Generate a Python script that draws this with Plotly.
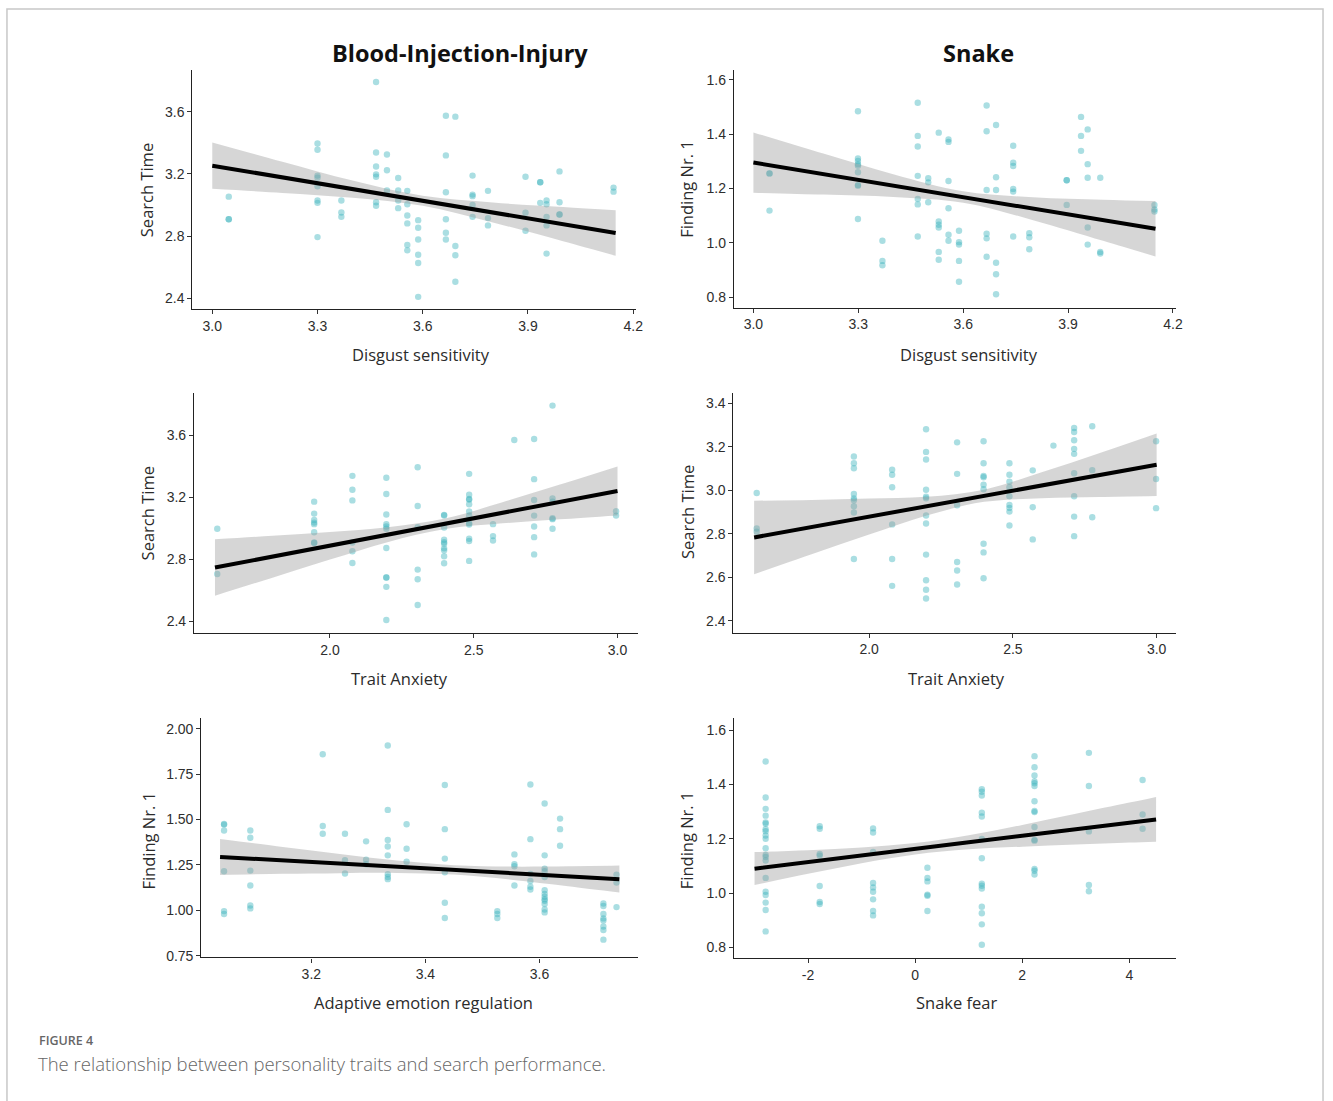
import plotly.graph_objects as go

W, H = 1333, 1101
FIG_H = 1101

# ---------------- DATA ----------------
# Panel 1: Blood-Injection-Injury, Disgust sensitivity vs Search Time
bii_ds_xlev = [3.047, 3.30, 3.368, 3.467, 3.498, 3.53, 3.556, 3.587, 3.666, 3.693,
               3.742, 3.786, 3.893, 3.935, 3.953, 3.99, 4.144]
bii_ds_ygrp = [
    [3.054, 2.909, 2.909],
    [3.395, 3.355, 3.189, 3.175, 3.12, 3.029, 3.014, 2.794],
    [3.029, 2.952, 2.924],
    [3.79, 3.338, 3.248, 3.197, 3.182, 3.018, 2.995],
    [3.325, 3.223, 3.093],
    [3.174, 3.093, 3.029, 2.98],
    [3.091, 3.005, 2.933, 2.882, 2.743, 2.709],
    [2.903, 2.854, 2.779, 2.681, 2.628, 2.41],
    [3.574, 3.319, 3.082, 2.909, 2.822, 2.779],
    [3.568, 2.737, 2.677, 2.507],
    [3.189, 3.067, 3.057, 3.001, 2.924],
    [3.091, 2.916, 2.869],
    [3.182, 2.95, 2.835],
    [3.146, 3.146, 3.014],
    [3.029, 3.005, 2.924, 2.869, 2.688],
    [3.216, 3.018, 2.939, 2.939],
    [3.112, 3.086],
]
bii_ds_fx = [3.0, 3.2, 3.4, 3.6, 3.8, 4.0, 4.15]
bii_ds_fit = [3.253, 3.178, 3.102, 3.027, 2.952, 2.877, 2.82]
bii_ds_lo = [3.104, 3.078, 3.047, 2.995, 2.888, 2.767, 2.674]
bii_ds_hi = [3.402, 3.278, 3.157, 3.059, 3.016, 2.987, 2.966]

# Panel 2: Snake, Disgust sensitivity vs Finding Nr. 1
sn_ds_xlev = [3.046, 3.299, 3.369, 3.47, 3.50, 3.53, 3.558, 3.588, 3.667, 3.694,
              3.743, 3.789, 3.896, 3.937, 3.956, 3.992, 4.147]
sn_ds_ygrp = [
    [1.255, 1.255, 1.118],
    [1.484, 1.310, 1.301, 1.289, 1.283, 1.259, 1.212, 1.210, 1.087],
    [1.007, 0.933, 0.917],
    [1.515, 1.393, 1.354, 1.246, 1.161, 1.141, 1.023],
    [1.237, 1.222, 1.149],
    [1.405, 1.078, 1.066, 1.056, 0.966, 0.937],
    [1.380, 1.371, 1.227, 1.127, 1.029, 1.007],
    [1.044, 1.002, 0.993, 0.933, 0.856],
    [1.505, 1.41, 1.194, 1.033, 1.016, 0.948],
    [1.433, 1.241, 1.194, 0.926, 0.884, 0.81],
    [1.357, 1.294, 1.282, 1.198, 1.188, 1.023],
    [1.035, 1.02, 0.976],
    [1.230, 1.230, 1.139],
    [1.463, 1.393, 1.338],
    [1.417, 1.289, 1.239, 1.056, 0.993],
    [1.239, 0.966, 0.96],
    [1.139, 1.122, 1.115],
]
sn_ds_fx = [3.0, 3.2, 3.4, 3.6, 3.8, 4.0, 4.15]
sn_ds_fit = [1.295, 1.253, 1.210, 1.168, 1.125, 1.083, 1.051]
sn_ds_lo = [1.184, 1.177, 1.168, 1.147, 1.083, 1.007, 0.949]
sn_ds_hi = [1.406, 1.328, 1.252, 1.189, 1.167, 1.158, 1.153]

# Panel 3: Blood-Injection-Injury, Trait Anxiety vs Search Time
bii_ta_xlev = [1.608, 1.945, 2.078, 2.196, 2.305, 2.397, 2.484, 2.567, 2.641, 2.71, 2.774, 2.995]
bii_ta_ygrp = [
    [2.998, 2.707],
    [3.173, 3.096, 3.055, 3.038, 3.028, 2.976, 2.91, 2.906],
    [3.339, 3.25, 3.181, 2.91, 2.853, 2.778],
    [3.327, 3.222, 3.09, 3.028, 3.013, 2.998, 2.874, 2.684, 2.684, 2.624, 2.41],
    [3.395, 3.145, 3.009, 2.735, 2.673, 2.507],
    [3.088, 3.084, 3.006, 2.927, 2.912, 2.902, 2.872, 2.859, 2.821, 2.776],
    [3.352, 3.218, 3.19, 3.186, 3.156, 3.109, 3.083, 3.034, 3.026, 2.934, 2.919, 2.791],
    [3.028, 2.951, 2.923],
    [3.57],
    [3.577, 3.318, 3.184, 3.083, 3.013, 2.944, 2.833],
    [3.792, 3.194, 3.173, 3.066, 3.06, 2.998],
    [3.111, 3.083],
]
bii_ta_fx = [1.6, 1.8, 2.0, 2.2, 2.4, 2.6, 2.8, 3.0]
bii_ta_fit = [2.748, 2.818, 2.889, 2.960, 3.030, 3.101, 3.171, 3.242]
bii_ta_lo = [2.567, 2.683, 2.800, 2.912, 2.996, 3.033, 3.059, 3.084]
bii_ta_hi = [2.930, 2.953, 2.978, 3.008, 3.064, 3.169, 3.283, 3.400]

# Panel 4: Snake, Trait Anxiety vs Search Time
sn_ta_xlev = [1.609, 1.947, 2.08, 2.198, 2.306, 2.398, 2.488, 2.569, 2.641, 2.713, 2.776, 2.998]
sn_ta_ygrp = [
    [2.988, 2.824, 2.809],
    [3.156, 3.125, 3.102, 2.983, 2.963, 2.954, 2.927, 2.898, 2.684],
    [3.095, 3.072, 3.014, 2.843, 2.684, 2.56],
    [3.281, 3.177, 3.142, 3.003, 2.971, 2.963, 2.884, 2.847, 2.704, 2.586, 2.542, 2.502],
    [3.221, 3.076, 2.931, 2.67, 2.631, 2.566],
    [3.226, 3.125, 3.066, 3.06, 3.026, 3.005, 2.754, 2.714, 2.595],
    [3.125, 3.072, 3.04, 3.014, 2.973, 2.933, 2.919, 2.902, 2.838],
    [3.092, 2.922, 2.774],
    [3.206],
    [3.287, 3.269, 3.231, 3.191, 3.168, 3.079, 2.973, 2.879, 2.789],
    [3.295, 3.093, 2.876],
    [3.226, 3.052, 2.918],
]
sn_ta_fx = [1.6, 1.8, 2.0, 2.2, 2.4, 2.6, 2.8, 3.0]
sn_ta_fit = [2.783, 2.831, 2.879, 2.927, 2.975, 3.023, 3.070, 3.118]
sn_ta_lo = [2.614, 2.706, 2.796, 2.884, 2.947, 2.963, 2.969, 2.974]
sn_ta_hi = [2.952, 2.956, 2.962, 2.970, 3.003, 3.083, 3.171, 3.262]

# Panel 5: Blood-Injection-Injury, Adaptive emotion regulation vs Finding Nr. 1
bii_er_xlev = [3.047, 3.093, 3.22, 3.259, 3.296, 3.334, 3.367, 3.434, 3.526, 3.556,
               3.584, 3.609, 3.636, 3.712, 3.735]
bii_er_ygrp = [
    [1.476, 1.472, 1.44, 1.215, 0.996, 0.98],
    [1.44, 1.40, 1.219, 1.137, 1.027, 1.011],
    [1.859, 1.464, 1.422],
    [1.422, 1.276, 1.203],
    [1.38, 1.279, 1.254],
    [1.907, 1.553, 1.387, 1.352, 1.303, 1.199, 1.184, 1.172],
    [1.474, 1.339, 1.268],
    [1.69, 1.447, 1.285, 1.21, 1.042, 0.958],
    [0.996, 0.98, 0.958],
    [1.308, 1.254, 1.243, 1.137],
    [1.693, 1.392, 1.201, 1.162, 1.13, 1.115],
    [1.588, 1.303, 1.23, 1.215, 1.184, 1.111, 1.091, 1.075, 1.062, 1.053, 1.035, 1.005, 0.989],
    [1.505, 1.447, 1.356],
    [1.038, 1.024, 0.98, 0.956, 0.945, 0.911, 0.892, 0.839],
    [1.197, 1.153, 1.018],
]
bii_er_fx = [3.04, 3.15, 3.25, 3.35, 3.45, 3.55, 3.65, 3.74]
bii_er_fit = [1.294, 1.275, 1.258, 1.240, 1.223, 1.205, 1.188, 1.172]
bii_er_lo = [1.195, 1.201, 1.205, 1.206, 1.197, 1.169, 1.133, 1.098]
bii_er_hi = [1.393, 1.349, 1.310, 1.274, 1.249, 1.241, 1.243, 1.247]

# Panel 6: Snake, Snake fear vs Finding Nr. 1
sn_sf_xlev = [-2.793, -1.783, -0.786, 0.229, 1.245, 2.229, 3.245, 4.248]
sn_sf_ygrp = [
    [1.484, 1.352, 1.31, 1.285, 1.26, 1.255, 1.235, 1.228, 1.212, 1.2, 1.165, 1.14,
     1.133, 1.12, 1.056, 1.005, 0.993, 0.965, 0.938, 0.859],
    [1.246, 1.237, 1.144, 1.138, 1.026, 0.967, 0.96],
    [1.238, 1.223, 1.151, 1.037, 1.021, 1.005, 0.977, 0.934, 0.918],
    [1.093, 1.056, 1.043, 0.994, 0.99, 0.934],
    [1.382, 1.373, 1.359, 1.296, 1.282, 1.199, 1.128, 1.035, 1.027, 1.017, 0.95,
     0.926, 0.885, 0.81],
    [1.504, 1.463, 1.433, 1.411, 1.404, 1.394, 1.338, 1.302, 1.298, 1.243, 1.196,
     1.193, 1.089, 1.082, 1.068],
    [1.516, 1.394, 1.227, 1.03, 1.007],
    [1.416, 1.289, 1.237],
]
sn_sf_fx = [-3.0, -2.0, -1.0, 0.0, 1.0, 2.0, 3.0, 4.0, 4.5]
sn_sf_fit = [1.090, 1.115, 1.139, 1.163, 1.187, 1.211, 1.235, 1.259, 1.271]
sn_sf_lo = [1.030, 1.071, 1.110, 1.142, 1.161, 1.171, 1.179, 1.186, 1.189]
sn_sf_hi = [1.151, 1.158, 1.168, 1.184, 1.213, 1.251, 1.292, 1.333, 1.354]

# Tick labels
ds_ticks = [3.0, 3.3, 3.6, 3.9, 4.2]
ds_ticktext = ["3.0", "3.3", "3.6", "3.9", "4.2"]
ta_ticks = [2.0, 2.5, 3.0]
ta_ticktext = ["2.0", "2.5", "3.0"]
er_ticks = [3.2, 3.4, 3.6]
er_ticktext = ["3.2", "3.4", "3.6"]
sf_ticks = [-2, 0, 2, 4]
sf_ticktext = ["-2", "0", "2", "4"]
st_ticks = [2.4, 2.8, 3.2, 3.6]
st_ticktext = ["2.4", "2.8", "3.2", "3.6"]
st2_ticks = [2.4, 2.6, 2.8, 3.0, 3.2, 3.4]
st2_ticktext = ["2.4", "2.6", "2.8", "3.0", "3.2", "3.4"]
fn_ticks = [0.8, 1.0, 1.2, 1.4, 1.6]
fn_ticktext = ["0.8", "1.0", "1.2", "1.4", "1.6"]
fn2_ticks = [0.75, 1.00, 1.25, 1.50, 1.75, 2.00]
fn2_ticktext = ["0.75", "1.00", "1.25", "1.50", "1.75", "2.00"]

col_titles = ["Blood-Injection-Injury", "Snake"]
caption_label = "FIGURE 4"
caption_text = "The relationship between personality traits and search performance."

# ---------------- LAYOUT (pixel boxes) ----------------
panels = [
    dict(xl=bii_ds_xlev, yg=bii_ds_ygrp, fx=bii_ds_fx, fit=bii_ds_fit, lo=bii_ds_lo, hi=bii_ds_hi,
         box=(193.3, 639, 70, 310.7), xr=[2.943, 4.207], yr=[2.332, 3.87],
         xt=(ds_ticks, ds_ticktext), yt=(st_ticks, st_ticktext),
         xtitle="Disgust sensitivity", ytitle="Search Time", xtpos=(423, 356), ytpos=(148, 191)),
    dict(xl=sn_ds_xlev, yg=sn_ds_ygrp, fx=sn_ds_fx, fit=sn_ds_fit, lo=sn_ds_lo, hi=sn_ds_hi,
         box=(737.7, 1182.7, 70, 309.3), xr=[2.944, 4.21], yr=[0.761, 1.637],
         xt=(ds_ticks, ds_ticktext), yt=(fn_ticks, fn_ticktext),
         xtitle="Disgust sensitivity", ytitle="Finding Nr. 1", xtpos=(974, 356), ytpos=(690.5, 190)),
    dict(xl=bii_ta_xlev, yg=bii_ta_ygrp, fx=bii_ta_fx, fit=bii_ta_fit, lo=bii_ta_lo, hi=bii_ta_hi,
         box=(195, 641, 395, 636.7), xr=[1.527, 3.07], yr=[2.325, 3.874],
         xt=(ta_ticks, ta_ticktext), yt=(st_ticks, st_ticktext),
         xtitle="Trait Anxiety", ytitle="Search Time", xtpos=(402, 682.5), ytpos=(148, 516)),
    dict(xl=sn_ta_xlev, yg=sn_ta_ygrp, fx=sn_ta_fx, fit=sn_ta_fit, lo=sn_ta_lo, hi=sn_ta_hi,
         box=(737.3, 1182.7, 395, 636), xr=[1.528, 3.069], yr=[2.345, 3.449],
         xt=(ta_ticks, ta_ticktext), yt=(st2_ticks, st2_ticktext),
         xtitle="Trait Anxiety", ytitle="Search Time", xtpos=(962, 682.5), ytpos=(690.5, 515)),
    dict(xl=bii_er_xlev, yg=bii_er_ygrp, fx=bii_er_fx, fit=bii_er_fit, lo=bii_er_lo, hi=bii_er_hi,
         box=(202.3, 641, 721.7, 962.7), xr=[3.007, 3.772], yr=[0.741, 2.06],
         xt=(er_ticks, er_ticktext), yt=(fn2_ticks, fn2_ticktext),
         xtitle="Adaptive emotion regulation", ytitle="Finding Nr. 1", xtpos=(426, 1008), ytpos=(149, 845)),
    dict(xl=sn_sf_xlev, yg=sn_sf_ygrp, fx=sn_sf_fx, fit=sn_sf_fit, lo=sn_sf_lo, hi=sn_sf_hi,
         box=(737.7, 1182.7, 722.3, 963.3), xr=[-3.387, 4.881], yr=[0.761, 1.643],
         xt=(sf_ticks, sf_ticktext), yt=(fn_ticks, fn_ticktext),
         xtitle="Snake fear", ytitle="Finding Nr. 1", xtpos=(962, 1008), ytpos=(690.5, 845)),
]

PT_COLOR = "rgba(62,180,190,0.44)"
RIB_COLOR = "rgba(153,153,153,0.4)"
TICK_FONT = dict(family="Liberation Sans Narrow, Arial Narrow, Liberation Sans, Arial", size=14, color="#2e2e2e")
TITLE_FONT = dict(family="Open Sans, Lato, sans-serif", size=16.5, color="#2b2b2b")


def px_x(p):
    return p / W


def px_y(p):
    return 1 - p / FIG_H


fig = go.Figure()
layout_axes = {}
annotations = []

for i, p in enumerate(panels, start=1):
    xa = "x" if i == 1 else f"x{i}"
    ya = "y" if i == 1 else f"y{i}"
    xs, ys = [], []
    for xv, grp in zip(p["xl"], p["yg"]):
        for yv in grp:
            xs.append(xv)
            ys.append(yv)
    fig.add_trace(go.Scatter(x=xs, y=ys, mode="markers", xaxis=xa, yaxis=ya,
                             marker=dict(size=6.4, color=PT_COLOR, line=dict(width=0)),
                             showlegend=False, hoverinfo="skip"))
    fig.add_trace(go.Scatter(x=p["fx"], y=p["lo"], mode="lines", xaxis=xa, yaxis=ya,
                             line=dict(width=0, color=RIB_COLOR, shape="spline"),
                             showlegend=False, hoverinfo="skip"))
    fig.add_trace(go.Scatter(x=p["fx"], y=p["hi"], mode="lines", xaxis=xa, yaxis=ya,
                             line=dict(width=0, color=RIB_COLOR, shape="spline"),
                             fill="tonexty", fillcolor=RIB_COLOR,
                             showlegend=False, hoverinfo="skip"))
    fig.add_trace(go.Scatter(x=p["fx"], y=p["fit"], mode="lines", xaxis=xa, yaxis=ya,
                             line=dict(width=4, color="black"),
                             showlegend=False, hoverinfo="skip"))

    x0, x1, y0, y1 = p["box"]
    axis_common = dict(showline=True, linecolor="#222", linewidth=1.1, showgrid=False,
                       zeroline=False, ticks="outside", ticklen=4, tickwidth=1,
                       tickcolor="#333", tickfont=TICK_FONT, fixedrange=True)
    layout_axes["xaxis" if i == 1 else f"xaxis{i}"] = dict(
        domain=[px_x(x0), px_x(x1)], anchor=ya, range=p["xr"],
        tickmode="array", tickvals=p["xt"][0], ticktext=p["xt"][1], **axis_common)
    layout_axes["yaxis" if i == 1 else f"yaxis{i}"] = dict(
        domain=[px_y(y1), px_y(y0)], anchor=xa, range=p["yr"],
        tickmode="array", tickvals=p["yt"][0], ticktext=p["yt"][1], **axis_common)

    annotations.append(dict(text=p["xtitle"], x=px_x(p["xtpos"][0]), y=px_y(p["xtpos"][1]),
                            xref="paper", yref="paper", xanchor="center", yanchor="middle",
                            showarrow=False, font=TITLE_FONT))
    annotations.append(dict(text=p["ytitle"], x=px_x(p["ytpos"][0]), y=px_y(p["ytpos"][1]),
                            xref="paper", yref="paper", xanchor="center", yanchor="middle",
                            showarrow=False, font=TITLE_FONT, textangle=-90))

# Column titles
for txt, cx in zip(col_titles, [462, 984]):
    annotations.append(dict(text=f"<b>{txt}</b>", x=px_x(cx), y=px_y(53), xref="paper", yref="paper",
                            xanchor="center", yanchor="middle", showarrow=False,
                            font=dict(family="Open Sans, Liberation Sans, sans-serif", size=23.5, color="#111")))

# Caption
annotations.append(dict(text=caption_label, x=px_x(37), y=px_y(1046), xref="paper", yref="paper",
                        xanchor="left", yanchor="middle", showarrow=False,
                        font=dict(family="Open Sans, sans-serif", size=12.5, color="#666", weight=600)))
annotations.append(dict(text=caption_text, x=px_x(36), y=px_y(1069), xref="paper", yref="paper",
                        xanchor="left", yanchor="middle", showarrow=False,
                        font=dict(family="Open Sans, sans-serif", size=18.5, color="#666", weight=300)))

fig.update_layout(
    width=W, height=FIG_H, autosize=False,
    margin=dict(l=0, r=0, t=0, b=0),
    paper_bgcolor="white", plot_bgcolor="white",
    showlegend=False, hovermode=False,
    annotations=annotations,
    shapes=[dict(type="rect", xref="paper", yref="paper",
                 x0=px_x(7), x1=px_x(1330), y0=px_y(9), y1=-0.05,
                 line=dict(color="#c8c8c8", width=1.5), fillcolor="rgba(0,0,0,0)", layer="below")],
    **layout_axes,
)

fig.write_html(
    "out.html",
    config={"displayModeBar": False},
    post_script=(
        "document.documentElement.style.margin='0';"
        "document.documentElement.style.padding='0';"
        "document.documentElement.style.overflow='hidden';"
        "document.body.style.margin='0';"
        "document.body.style.padding='0';"
        "document.body.style.overflow='hidden';"
    ),
)
